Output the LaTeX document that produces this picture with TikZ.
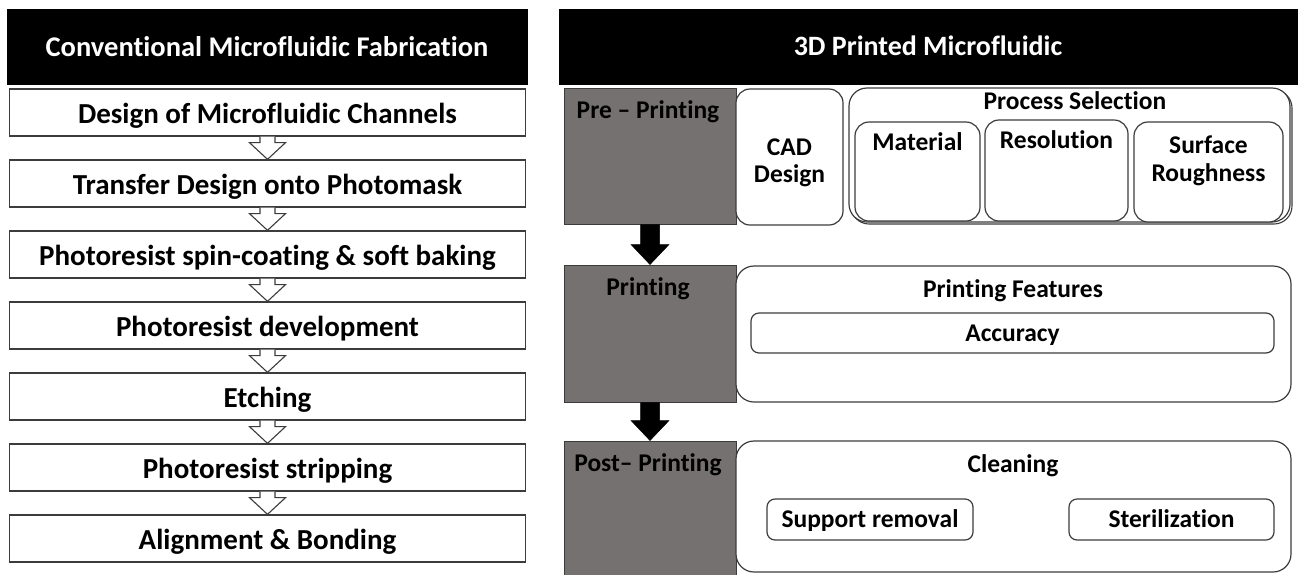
\documentclass[tikz,border=0pt]{standalone}
\usepackage{fontspec}
\setmainfont{Carlito}[Ligatures={NoCommon}]
\usetikzlibrary{calc}
\definecolor{stagegray}{RGB}{118,113,113}
\definecolor{edgegray}{RGB}{60,60,60}

% box by its corners: name, x1, y1, x2, y2, style
\newcommand{\mkbox}[6]{%
  \node[#6, minimum width={#4-#2}, minimum height={#5-#3}] (#1) at ({(#2+#4)/2},{(#3+#5)/2}) {};}

\begin{document}
\begin{tikzpicture}[x=1pt,y=-1pt,
  every node/.style={font=\bfseries},
  headbar/.style={fill=black, draw=black, inner sep=0pt},
  stepbox/.style={draw=edgegray, line width=1.3pt, fill=white, inner sep=0pt,
    font=\fontsize{29}{30}\selectfont\bfseries},
  steptext/.style={inner sep=0pt, yshift=-3pt, font=\fontsize{29}{30}\selectfont\bfseries},
  stagebox/.style={draw=edgegray, line width=1pt, fill=stagegray, inner sep=0pt},
  roundbig/.style={draw=edgegray, line width=1.2pt, fill=white, rounded corners=18pt, inner sep=0pt},
  roundmid/.style={draw=edgegray, line width=1.2pt, fill=white, rounded corners=14pt, inner sep=0pt},
  roundsmall/.style={draw=edgegray, line width=1.2pt, fill=white, rounded corners=8pt, inner sep=0pt},
  lbl/.style={inner sep=0pt, text height=0.7em, text depth=0.22em, yshift=-6pt,
    font=\fontsize{25.5}{27}\selectfont\bfseries},
  lbltwo/.style={inner sep=0pt, align=center, yshift=-3pt,
    font=\fontsize{25.5}{27.5}\selectfont\bfseries},
  hollowarrow/.style={draw=edgegray, line width=1.1pt, fill=white, line join=miter},
  solidarrow/.style={fill=black, draw=black, line width=0.5pt}
]
\useasboundingbox (0,0) rectangle (1298,574);

% ---------- conventional fabrication ----------
\mkbox{convhead}{7}{9}{527}{84}{headbar}
\node[text=white, font=\fontsize{28.5}{30}\selectfont\bfseries] (convtitle) at (convhead) {Conventional Microfluidic Fabrication};

\foreach \i/\txt in {0/Design of Microfluidic Channels,
                     1/Transfer Design onto Photomask,
                     2/Photoresist spin-coating \& soft baking,
                     3/Photoresist development,
                     4/Etching,
                     5/Photoresist stripping,
                     6/Alignment \& Bonding}{
  \pgfmathsetmacro{\boxtop}{89+71*\i}
  \node[stepbox, minimum width=516, minimum height=47] (s\i) at (267.5,{\boxtop+23.5}) {};
  \node[steptext] (s\i t) at (s\i) {\txt};
}

% hollow arrows between consecutive steps
\foreach \a/\b in {0/1,1/2,2/3,3/4,4/5,5/6}{
  \draw[hollowarrow]
    ($(s\a.south)+(-7.5,0)$) -- ($(s\a.south)+(-7.5,6)$) -- ($(s\a.south)+(-18,6)$)
    -- (s\b.north) -- ($(s\a.south)+(18,6)$) -- ($(s\a.south)+(7.5,6)$)
    -- ($(s\a.south)+(7.5,0)$);
}

% ---------- 3D printed workflow ----------
\mkbox{printhead}{559}{9}{1298}{84}{headbar}
\node[text=white, font=\fontsize{28}{30}\selectfont\bfseries] (printtitle) at (928,46) {3D Printed Microfluidic};

% stage column
\mkbox{pre}{564}{88}{736}{224}{stagebox}
\mkbox{prn}{564}{265}{736}{402}{stagebox}
\mkbox{post}{564}{441}{736}{580}{stagebox}
\node[lbl] (pret) at (648,110) {Pre -- Printing};
\node[lbl] (prnt) at (648,287) {Printing};
\node[lbl] (postt) at (648,463) {Post-- Printing};

% solid arrows between stages
\foreach \a/\b in {pre/prn,prn/post}{
  \fill[solidarrow]
    ($(\a.south)+(-9.5,0)$) -- ($(\b.north)+(-9.5,-20)$) -- ($(\b.north)+(-19,-20)$)
    -- (\b.north) -- ($(\b.north)+(19,-20)$) -- ($(\b.north)+(9.5,-20)$)
    -- ($(\a.south)+(9.5,0)$) -- cycle;
}

% pre-printing details
\mkbox{cad}{736}{89}{843}{225}{roundmid}
\node[lbltwo] (cadt) at (789.5,160) {CAD\\Design};

\draw[draw=edgegray, line width=1.1pt, rounded corners=18pt] (851,90) rectangle (1292,224);
\mkbox{proc}{849}{88}{1290}{222}{roundbig}
\node[lbl] (proct) at (1075,101) {Process Selection};
\mkbox{mat}{855}{122}{980}{221}{roundmid}
\mkbox{res}{985}{120}{1128}{221}{roundmid}
\mkbox{surf}{1134}{122}{1283}{222}{roundmid}
\node[lbl] (matt) at (917.5,142) {Material};
\node[lbl] (rest) at (1056.5,140) {Resolution};
\node[lbltwo] (surft) at (1208.5,158) {Surface\\Roughness};

% printing details
\mkbox{feat}{736}{266}{1291}{402}{roundbig}
\node[lbl] (featt) at (1013,289) {Printing Features};
\mkbox{acc}{751}{313}{1274}{353}{roundsmall}
\node[lbl] (acct) at (acc) {Accuracy};

% post-printing details
\mkbox{clean}{736}{441}{1291}{572}{roundbig}
\node[lbl] (cleant) at (1013,464) {Cleaning};
\mkbox{supp}{767}{499}{973}{540}{roundsmall}
\node[lbl] (suppt) at (supp) {Support removal};
\mkbox{ster}{1069}{499}{1274}{540}{roundsmall}
\node[lbl] (stert) at (ster) {Sterilization};

\end{tikzpicture}
\end{document}
